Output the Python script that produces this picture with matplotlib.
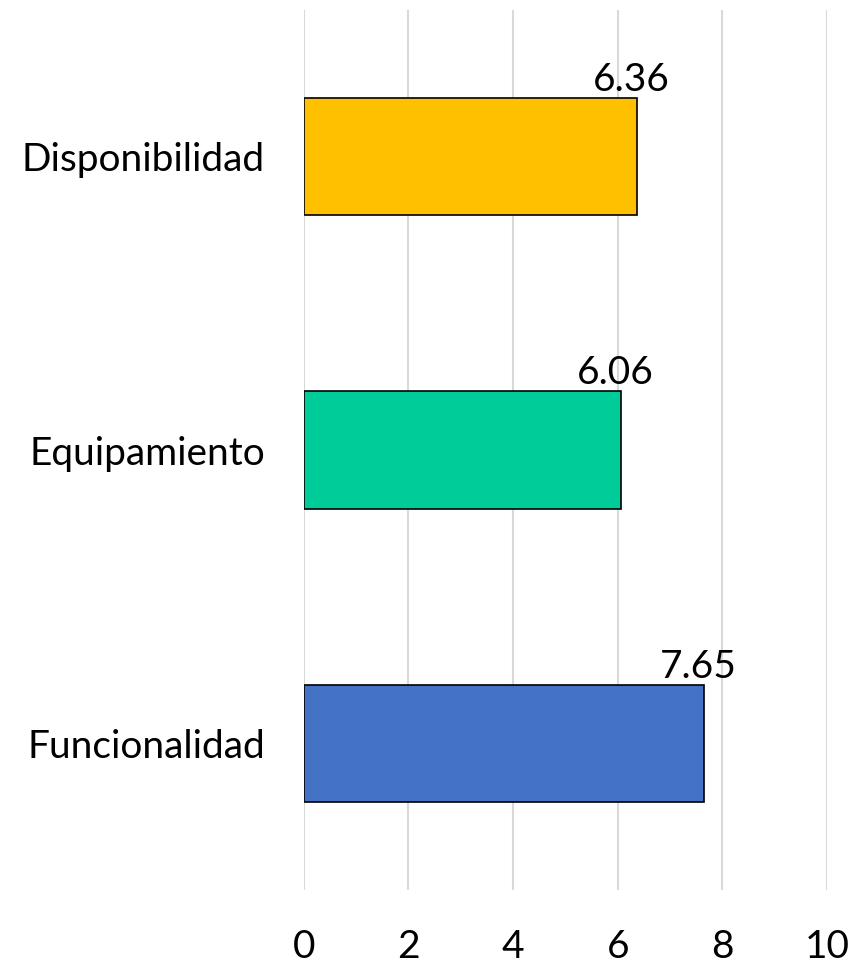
import matplotlib.pyplot as plt

categories = ["Disponibilidad", "Equipamiento", "Funcionalidad"]
values = [6.36, 6.06, 7.65]
colors = ["#FFC000", "#00CC99", "#4472C4"]
xticks = [0, 2, 4, 6, 8, 10]

plt.rcParams['font.family'] = ['Lato', 'DejaVu Sans']

fig = plt.figure(figsize=(8.56, 9.63), dpi=100)
ax = fig.add_axes([0.355, 0.0758, 0.611, 0.9138])

ypos = list(range(len(categories)))
ax.barh(ypos, values, height=0.4, color=colors, edgecolor='black', linewidth=1.2, zorder=3)

for y, v in zip(ypos, values):
    ax.text(v - 0.1, y - 0.2, f"{v:.2f}", ha='center', va='bottom', fontsize=28, color='black')

ax.set_xlim(0, 10)
ax.set_ylim(2.5, -0.5)
ax.set_xticks(xticks)
ax.set_xticklabels([str(t) for t in xticks], fontsize=28)
ax.set_yticks(ypos)
ax.set_yticklabels(categories, fontsize=28)
ax.tick_params(axis='x', length=0, pad=28)
ax.tick_params(axis='y', length=0, pad=28)
ax.grid(axis='x', color='#D9D9D9', linewidth=1.5, zorder=0)
for s in ax.spines.values():
    s.set_visible(False)

plt.savefig("out.png", dpi=100)
plt.close()
